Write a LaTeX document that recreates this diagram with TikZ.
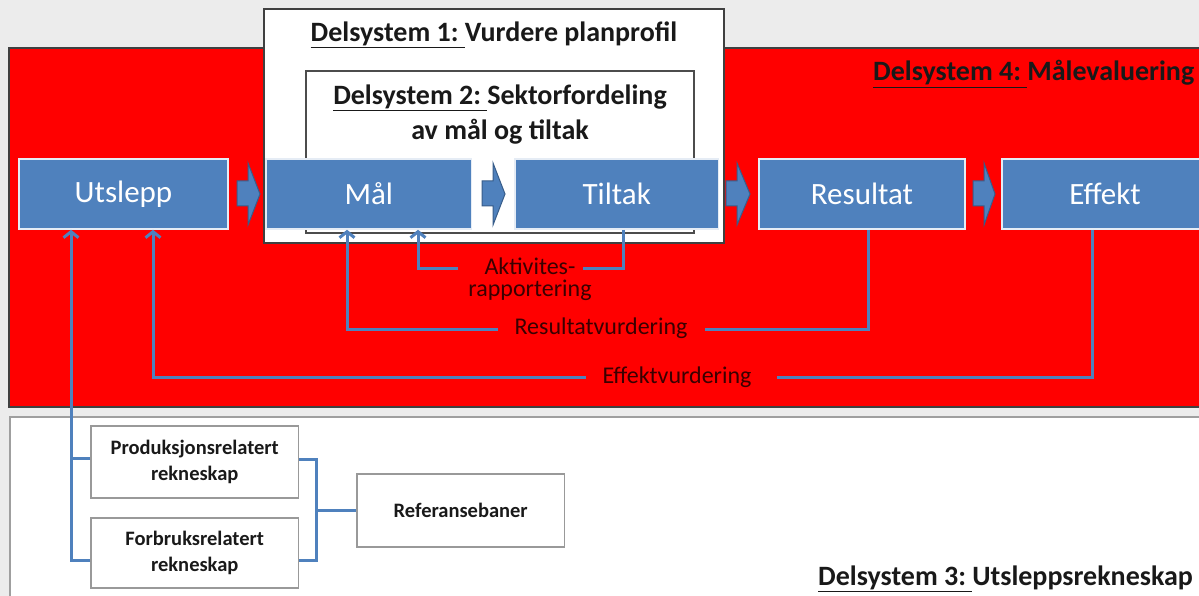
\documentclass[tikz,border=0pt]{standalone}
\usepackage{fontspec}
\setmainfont{Carlito}
\usetikzlibrary{arrows.meta}
\definecolor{boxblue}{HTML}{4F81BD}
\definecolor{arrowedge}{HTML}{385D8A}
\definecolor{panelred}{HTML}{FF0000}
\definecolor{bggray}{HTML}{ECECEC}
\definecolor{labeltext}{HTML}{3A0000}
\begin{document}
\begin{tikzpicture}[x=1pt,y=-1pt,
  bluebox/.style={fill=boxblue, draw=white!85!boxblue, line width=1.5pt, inner sep=0pt,
    text=white, font=\fontsize{31}{34}\selectfont},
  whitebox/.style={fill=white, draw=gray!80, line width=1.5pt, inner sep=0pt,
    align=center, text=black!90, font=\bfseries\fontsize{20.5}{26}\selectfont},
  title/.style={inner sep=0pt, font=\bfseries\fontsize{28}{35}\selectfont, text=black!90},
  lbl/.style={inner sep=0pt, align=center, text=labeltext, font=\fontsize{24}{22}\selectfont},
  conn/.style={draw=boxblue, line width=3pt},
  tip/.style={-{Straight Barb[length=6pt,width=15pt,line width=3pt]}},
  blockarrow/.style={fill=boxblue, draw=arrowedge, line width=1pt, line join=miter}
]
\useasboundingbox (0,0) rectangle (1199,596);
% background
\fill[bggray] (0,0) rectangle (1199,596);
% panels
\draw[fill=panelred, draw=black!75, line width=1.2pt] (9,48) rectangle (1210,407);
\draw[fill=white, draw=gray!75, line width=2pt] (9.5,417) rectangle (1210,610);
% Delsystem 1 and 2 boxes
\draw[fill=white, draw=black!75, line width=1.5pt] (264,9) rectangle (724,243);
\draw[fill=white, draw=black!70, line width=1.5pt] (306,71) rectangle (694,233);
% titles
\node[title] (d1) at (494,35) {\underline{Delsystem 1:\ }Vurdere planprofil};
\node[title, align=center] (d2) at (500,114.5) {\underline{Delsystem 2:\ }Sektorfordeling\\av mål og tiltak};
\node[title, anchor=west] (d4) at (873,74) {\underline{Delsystem 4:\ }Målevaluering};
\node[title, anchor=west] (d3) at (818,579) {\underline{Delsystem 3:\ }Utsleppsrekneskap};
% blue boxes
\node[bluebox, minimum width=209pt, minimum height=70pt] (utslepp) at (123.5,194) {Utslepp};
\node[bluebox, minimum width=205.5pt, minimum height=70pt] (maal) at (368.75,194) {Mål};
\node[bluebox, minimum width=203.5pt, minimum height=70pt] (tiltak) at (616.75,194) {Tiltak};
\node[bluebox, minimum width=206pt, minimum height=70pt] (resultat) at (862,194) {Resultat};
\node[bluebox, minimum width=206pt, minimum height=70pt] (effekt) at (1105,194) {Effekt};
% block arrows
\foreach \s/\t in {237/260, 482/505, 726/750, 973/995}{
  \draw[blockarrow] (\s,181) -- (\s+11,181) -- (\s+11,163) -- (\t,194) -- (\s+11,225) -- (\s+11,206) -- (\s,206) -- cycle;
}
% lower boxes
\node[whitebox, minimum width=207.5pt, minimum height=72pt] (prod) at (194.75,462) {Produksjonsrelatert\\rekneskap};
\node[whitebox, minimum width=207.5pt, minimum height=70pt] (forb) at (194.75,553) {Forbruksrelatert\\rekneskap};
\node[whitebox, minimum width=207.5pt, minimum height=73pt] (ref) at (460.75,510.5) {Referansebaner};
% labels
\node[lbl] (akt) at (530,279) {Aktivites-\\rapportering};
\node[lbl] (resv) at (601,328) {Resultatvurdering};
\node[lbl] (effv) at (677,377) {Effektvurdering};
% helper coordinates
\coordinate (xa) at (623,0);
\coordinate (xb) at (418,0);
\coordinate (aR) at (583,268);
\coordinate (aL) at (458,268);
\coordinate (xc) at (868,0);
\coordinate (xd) at (347,0);
\coordinate (rR) at (705,329);
\coordinate (rL) at (498,329);
\coordinate (xe) at (1092,0);
\coordinate (xf) at (153,0);
\coordinate (eR) at (777,377);
\coordinate (eL) at (586,377);
\coordinate (xg) at (71,0);
\coordinate (brk) at (316,510.5);
% connectors
\draw[conn] (tiltak.south -| xa) |- (aR);
\draw[conn, tip] (aL) -| (maal.south -| xb);
\draw[conn] (resultat.south -| xc) |- (rR);
\draw[conn, tip] (rL) -| (maal.south -| xd);
\draw[conn] (effekt.south -| xe) |- (eR);
\draw[conn, tip] (eL) -| (utslepp.south -| xf);
\draw[conn, tip] ([yshift=-7pt]forb.west) -| (utslepp.south -| xg);
\draw[conn] ([yshift=4pt]prod.west) -- ++(-20,0);
\draw[conn] ([yshift=3pt]prod.east) -| (brk) |- ([yshift=-7pt]forb.east);
\draw[conn] (brk) -- (ref.west);
\end{tikzpicture}
\end{document}
